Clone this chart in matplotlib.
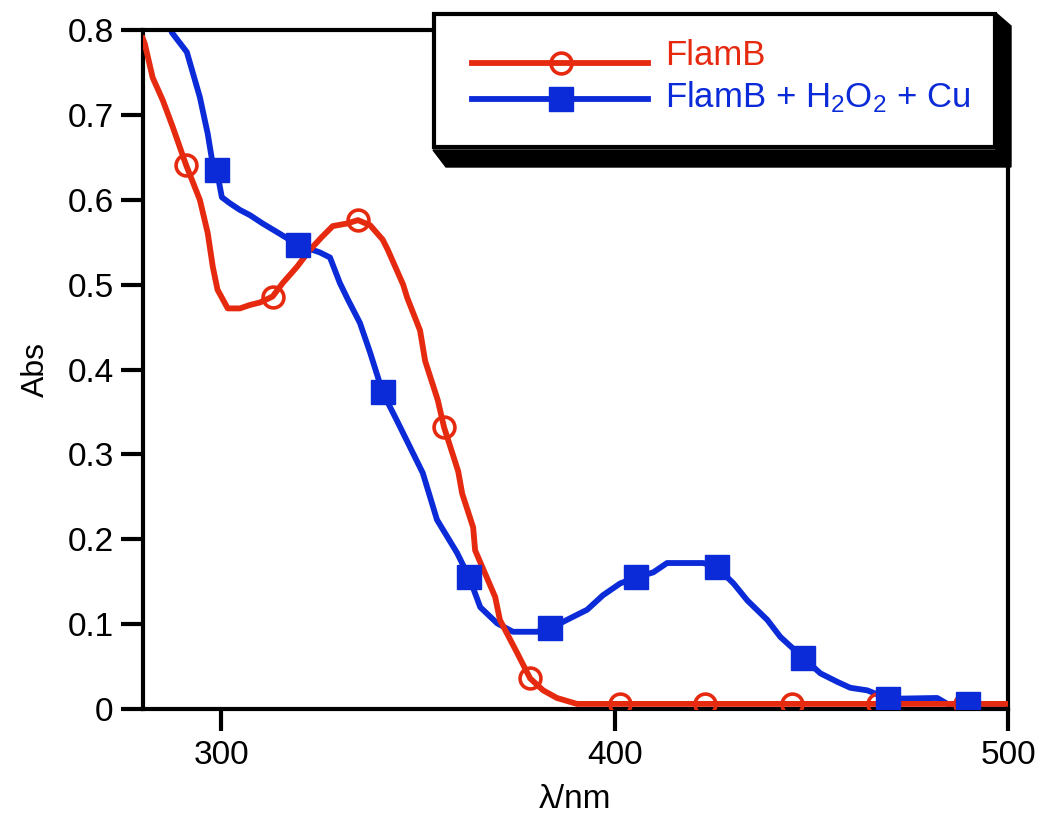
import matplotlib
matplotlib.use("Agg")
import matplotlib.pyplot as plt
from matplotlib.lines import Line2D
from matplotlib.patches import Polygon, Rectangle
from matplotlib.ticker import FuncFormatter

plt.rcParams['font.family'] = ['Liberation Sans', 'DejaVu Sans']
plt.rcParams['mathtext.fontset'] = 'custom'
plt.rcParams['mathtext.rm'] = 'Liberation Sans'
plt.rcParams['mathtext.default'] = 'regular'

red = '#e62a10'
blue = '#0b2bd9'

# FlamB spectrum
flam_wl = [280, 280.5, 282.5, 285.1, 287.6, 291, 294.5, 296.5, 297.8, 299, 301.6,
           304.7, 307.2, 309.8, 313, 315.6, 319.2, 322.5, 325.5, 328.3, 331.9,
           334.7, 337.8, 341, 342.3, 346.2, 347.2, 350.5, 351.8, 355, 356.6,
           360.2, 361.2, 364, 364.5, 369.6, 370.8, 375.2, 378.5, 381.8, 385.3,
           390.4, 500]
flam_abs = [0.79, 0.784, 0.744, 0.717, 0.686, 0.641, 0.60, 0.561, 0.521, 0.494, 0.472,
            0.472, 0.476, 0.479, 0.486, 0.502, 0.521, 0.541, 0.556, 0.569, 0.572,
            0.576, 0.570, 0.553, 0.541, 0.500, 0.485, 0.446, 0.41, 0.364, 0.332,
            0.28, 0.254, 0.214, 0.187, 0.132, 0.105, 0.066, 0.036, 0.022, 0.013,
            0.006, 0.006]
flam_mk_wl = [291, 313, 334.7, 356.6, 378.5, 401.4, 423, 445, 467, 489]
flam_mk_abs = [0.641, 0.486, 0.576, 0.332, 0.036, 0.006, 0.006, 0.006, 0.006, 0.006]

# FlamB + H2O2 + Cu spectrum
cu_wl = [286.5, 287.4, 291.2, 294.5, 296.5, 297.6, 298.8, 300.1, 302.1, 304.7,
         307.2, 310.5, 314.1, 319.4, 325, 327.6, 330.1, 332.2, 335.2, 337.8,
         341, 344.6, 347.9, 351.2, 354.8, 359.9, 363, 365.8, 370.1, 374.1,
         380.2, 383.6, 388.7, 393, 397, 401.4, 405.4, 409.8, 413.3, 422.5,
         426, 430.2, 433.7, 438.8, 442.1, 448, 452.3, 456.6, 459.9, 464.2,
         469.6, 482, 484.6, 489.9, 500]
cu_abs = [0.81, 0.797, 0.774, 0.721, 0.678, 0.647, 0.635, 0.603, 0.596, 0.588,
          0.582, 0.572, 0.562, 0.547, 0.538, 0.532, 0.502, 0.482, 0.455, 0.42,
          0.373, 0.34, 0.309, 0.278, 0.223, 0.184, 0.155, 0.12, 0.101, 0.091,
          0.091, 0.095, 0.107, 0.117, 0.134, 0.148, 0.155, 0.161, 0.172, 0.172,
          0.167, 0.148, 0.128, 0.105, 0.085, 0.06, 0.042, 0.032, 0.025, 0.022,
          0.012, 0.013, 0.006, 0.006, 0.006]
cu_mk_wl = [298.8, 319.4, 341, 363, 383.6, 405.4, 426, 448, 469.6, 489.9]
cu_mk_abs = [0.635, 0.547, 0.373, 0.155, 0.095, 0.155, 0.167, 0.06, 0.012, 0.006]

labels = ['FlamB', 'FlamB + H$_2$O$_2$ + Cu']

fig = plt.figure(figsize=(10.5, 8.25), dpi=100)
ax = fig.add_axes([0.136, 0.1406, 0.824, 0.823])

ax.plot(cu_wl, cu_abs, color=blue, lw=4.2, zorder=2)
ax.plot(flam_wl, flam_abs, color=red, lw=4.2, zorder=3)
ax.plot(flam_mk_wl, flam_mk_abs, ls='none', marker='o', ms=15, mfc='none',
        mec=red, mew=2.6, zorder=4)
ax.plot(cu_mk_wl, cu_mk_abs, ls='none', marker='s', ms=17, color=blue, zorder=5)

ax.set_xlim(280, 500)
ax.set_ylim(0, 0.8)
ax.set_xticks([300, 400, 500])
ax.set_yticks([0, 0.1, 0.2, 0.3, 0.4, 0.5, 0.6, 0.7, 0.8])
ax.yaxis.set_major_formatter(FuncFormatter(lambda v, p: '0' if v == 0 else '%.1f' % v))
ax.tick_params(direction='out', length=16, width=3, labelsize=24, pad=5)
ax.tick_params(axis='x', pad=6)
for s in ax.spines.values():
    s.set_linewidth(3)
ax.set_xlabel('λ/nm', fontsize=24, labelpad=10)
ax.set_ylabel('Abs', fontsize=23, labelpad=12)

# legend box with drop shadow, in figure pixels
W, H = 1050.0, 825.0
def fp(x, y):
    return (x / W, 1 - y / H)

shadow = Polygon([fp(996, 13), fp(1011, 26), fp(1011, 167), fp(446, 167),
                  fp(433, 150), fp(996, 150)], closed=True, facecolor='black',
                 edgecolor='black', transform=fig.transFigure, zorder=10)
fig.add_artist(shadow)
x0, y0 = fp(434, 147)
x1, y1 = fp(995, 14)
box = Rectangle((x0, y0), x1 - x0, y1 - y0, facecolor='white', edgecolor='black',
                lw=3, transform=fig.transFigure, zorder=11)
fig.add_artist(box)

# legend entries
for (ly, col, mk, lab) in [(63, red, 'o', labels[0]), (99, blue, 's', labels[1])]:
    xa, ya = fp(472, ly)
    xb, _ = fp(648, ly)
    xm, _ = fp(561, ly)
    fig.add_artist(Line2D([xa, xb], [ya, ya], color=col, lw=4.2,
                          transform=fig.transFigure, zorder=12))
    if mk == 'o':
        fig.add_artist(Line2D([xm], [ya], ls='none', marker='o', ms=15, mfc='none',
                              mec=col, mew=2.6, transform=fig.transFigure, zorder=13))
    else:
        fig.add_artist(Line2D([xm], [ya], ls='none', marker='s', ms=17, color=col,
                              transform=fig.transFigure, zorder=13))
    tx, ty = fp(665, ly + 2 if mk == 'o' else ly + 8)
    fig.text(tx, ty, lab, color=col, fontsize=25, va='baseline', ha='left', zorder=14)

fig.savefig('out.png', dpi=100)
